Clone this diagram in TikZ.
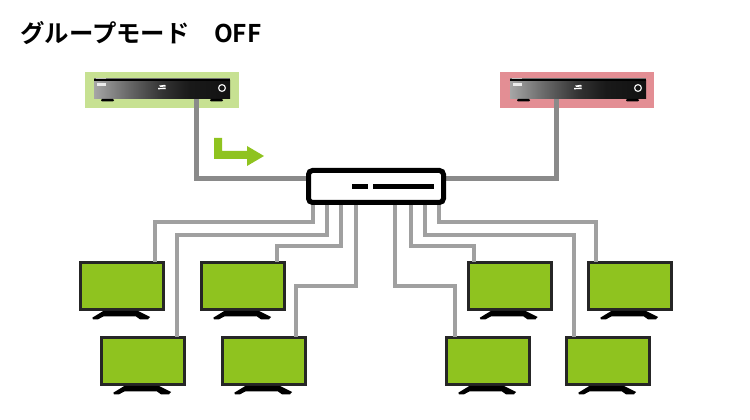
\documentclass[tikz,border=0pt]{standalone}
\usepackage{fontspec}
\newfontfamily\titlefont{Noto Sans CJK JP Bold}
\definecolor{tvgreen}{HTML}{8FC31F}
\definecolor{lightgreen}{HTML}{C7E192}
\definecolor{lightred}{HTML}{E38E94}
\definecolor{thickgray}{HTML}{8A8A8A}
\definecolor{wiregray}{HTML}{A0A0A0}
\definecolor{tvframe}{HTML}{262626}
\pgfdeclarehorizontalshading{devshade}{100bp}{
  color(0bp)=(black!35);
  color(25bp)=(black!35);
  color(37bp)=(black!58);
  color(50bp)=(black!80);
  color(60bp)=(black!90);
  color(75bp)=(black!93);
  color(100bp)=(black!93)}
\tikzset{
  thickwire/.style={draw=thickgray,line width=3.75pt},
  wire/.style={draw=wiregray,line width=2.5pt},
  halo/.style={fill=#1,inner sep=0pt,outer sep=0pt,minimum width=115.5pt,minimum height=27pt,anchor=north west},
  tvscreen/.style={draw=tvframe,fill=tvgreen,line width=2.25pt,inner sep=0pt,outer sep=0pt,minimum width=62.25pt,minimum height=35.25pt,anchor=north west},
  devbody/.style={inner sep=0pt,outer sep=0pt,minimum width=102pt,minimum height=13.5pt,anchor=north west,shading=devshade},
  hub/.style={draw=black,fill=white,line width=3.75pt,rounded corners=3pt,inner sep=0pt,outer sep=1.875pt,minimum width=101.25pt,minimum height=24pt,anchor=north west},
}
\newcommand{\tvstand}[1]{%
  \fill[black] ([shift={(22.8,1.5)}]#1.south west) -- ++(34.7,0) -- ++(12,6) -- ++(-2,2.3) -- ++(-8,0) -- ++(-4,-2.8) -- ++(-32.7,0) -- ++(-5.3,2.8) -- ++(-5,0) -- ++(-.7,-1.6) -- cycle;}
\newcommand{\stbdetail}[1]{%
  \fill[black!55] ([shift={(0,-3)}]#1.north west) rectangle ([shift={(0,-2)}]#1.north east);
  \fill[black] ([shift={(0,-2)}]#1.north west) rectangle (#1.north east);
  \fill[black!25] ([shift={(2,-3)}]#1.north west) rectangle ([shift={(12,-2.2)}]#1.north west);
  \fill[white!85!gray] ([shift={(3,2.5)}]#1.north west) rectangle ([shift={(12,5)}]#1.north west);
  \fill[white] ([shift={(65,4.6)}]#1.north west) -- ++(6,-.8) -- ++(1,1.6) -- ++(-5.5,.6) -- cycle;
  \fill[white] ([shift={(64,7)}]#1.north west) -- ++(7.5,-.4) -- ++(.3,1.5) -- ++(-7.8,.2) -- cycle;
  \draw[white!85!gray,line width=.9pt] ([shift={(128,7)}]#1.north west) circle[radius=3.4];
  \fill[black,rounded corners=.8pt] ([shift={(7,0)}]#1.south west) rectangle ([shift={(20,2.5)}]#1.south west);
  \fill[black,rounded corners=.8pt] ([shift={(116,0)}]#1.south west) rectangle ([shift={(129,2.5)}]#1.south west);
}
\begin{document}
\begin{tikzpicture}[x=0.75pt,y=-0.75pt]
\useasboundingbox (0,0) rectangle (750,420);
\node[anchor=base west,inner sep=0pt,font=\titlefont\fontsize{18.3pt}{20pt}\selectfont] (title) at (20,43) {グループモード\hspace{1em}OFF};
\node[halo=lightgreen] (halog) at (85,72) {};
\node[halo=lightred] (halor) at (500,72) {};
\node[devbody] (stbg) at (94,81) {};
\node[devbody] (stbr) at (510,81) {};
\stbdetail{stbg}
\stbdetail{stbr}
\draw[thickwire] (196,0 |- stbg.south) -- (196,179) -- (310,179);
\draw[thickwire] (556,0 |- stbr.south) -- (556,179) -- (442,179);
\node[hub] (sw) at (306,168) {};
\fill[black] (352,184) rectangle (368,189);
\fill[black] (373,184) rectangle (434,189);
\fill[tvgreen] (214,138) -- (222,138) -- (222,151) -- (247,151) -- (247,146) -- (264,156) -- (247,166) -- (247,159) -- (214,159) -- cycle;
\node[tvscreen] (tva) at (80.5,262.5) {};
\node[tvscreen] (tvb) at (201.5,262.5) {};
\node[tvscreen] (tvc) at (468,262.5) {};
\node[tvscreen] (tvd) at (588.5,262.5) {};
\node[tvscreen] (tve) at (101.5,337.5) {};
\node[tvscreen] (tvf) at (222.5,337.5) {};
\node[tvscreen] (tvg) at (446.5,337.5) {};
\node[tvscreen] (tvh) at (566.5,337.5) {};
\foreach \t in {tva,tvb,tvc,tvd,tve,tvf,tvg,tvh}{\tvstand{\t}}
\draw[wire] (313,0 |- sw.south) |- (155,222) -- (155,0 |- tva.north);
\draw[wire] (327,0 |- sw.south) |- (177,235) -- (177,0 |- tve.north);
\draw[wire] (341,0 |- sw.south) |- (277,246) -- (277,0 |- tvb.north);
\draw[wire] (356,0 |- sw.south) |- (296,286) -- (296,0 |- tvf.north);
\draw[wire] (395,0 |- sw.south) |- (455,286) -- (455,0 |- tvg.north);
\draw[wire] (411,0 |- sw.south) |- (474,246) -- (474,0 |- tvc.north);
\draw[wire] (425,0 |- sw.south) |- (574,235) -- (574,0 |- tvh.north);
\draw[wire] (439,0 |- sw.south) |- (596,222) -- (596,0 |- tvd.north);
\end{tikzpicture}
\end{document}
